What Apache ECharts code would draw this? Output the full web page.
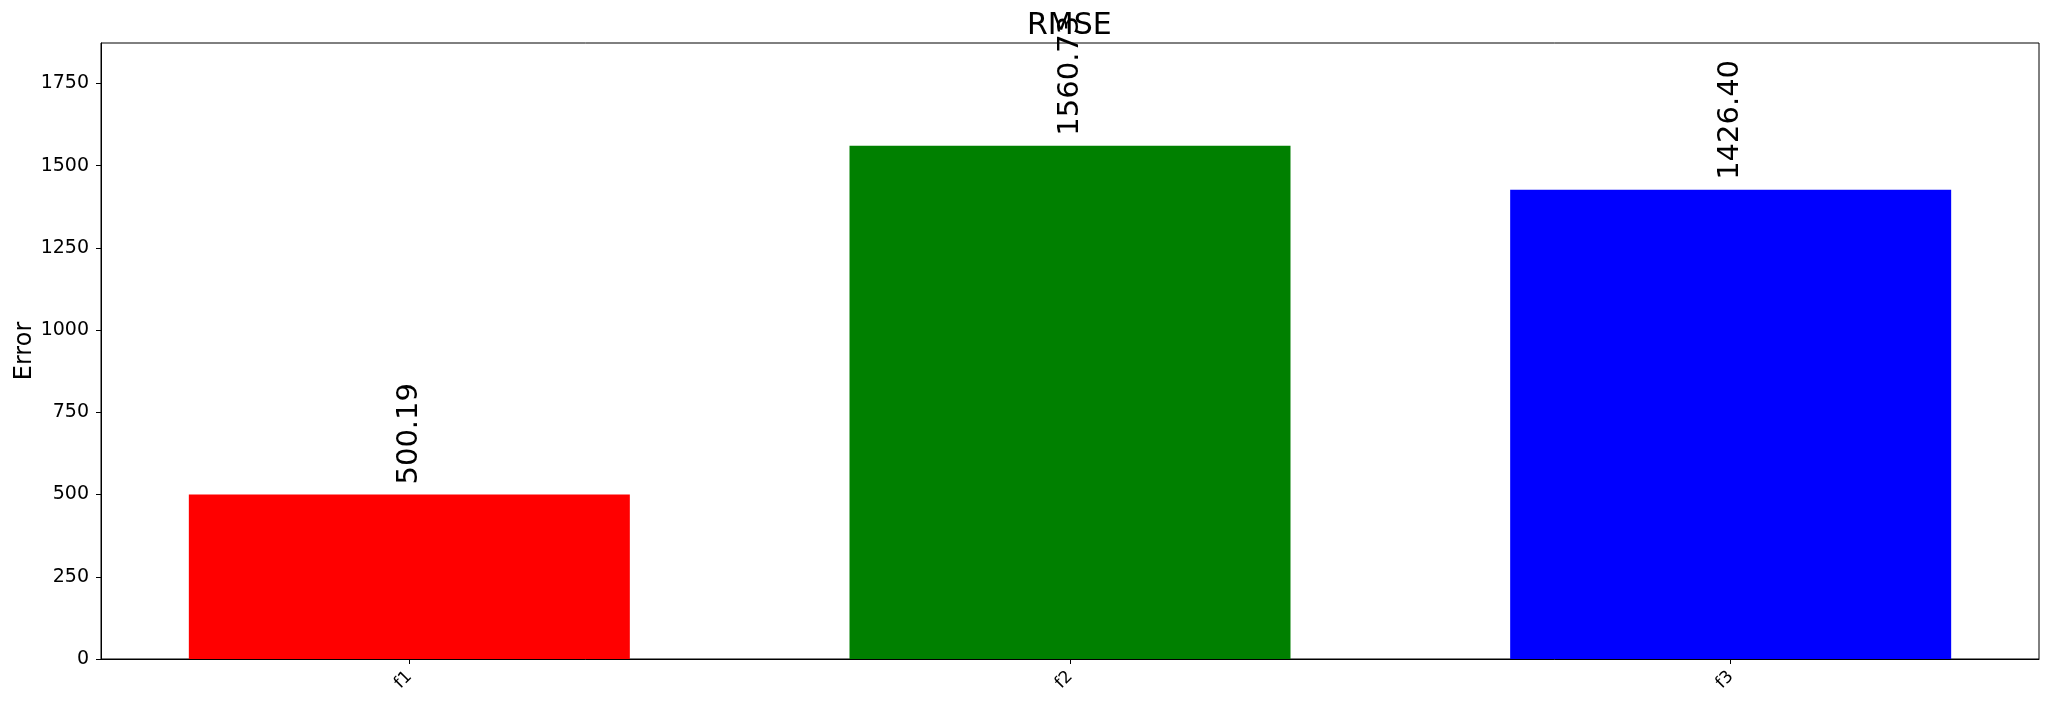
<!DOCTYPE html>
<html>
<head>
<meta charset="utf-8">
<script src="https://cdn.jsdelivr.net/npm/echarts@6/dist/echarts.min.js"></script>
<style>
html,body{margin:0;padding:0;background:#fff;}
#chart{width:2051px;height:705px;}
</style>
</head>
<body>
<div id="chart"></div>
<script>
const categories = ['f1', 'f2', 'f3'];
const rmseValues = [500.19, 1560.73, 1426.40];
const barColors = ['#ff0000', '#008000', '#0000ff'];
const yTicks = [0, 250, 500, 750, 1000, 1250, 1500, 1750];
const xTicks = [0, 1, 2];

const FONT = 'DejaVu Sans';
const yMax = Math.max.apply(null, rmseValues) * 1.2;

const chart = echarts.init(document.getElementById('chart'), null, {renderer: 'canvas'});
chart.setOption({
  animation: false,
  backgroundColor: '#ffffff',
  title: {
    text: 'RMSE',
    left: 1022,
    top: 6,
    textStyle: {fontFamily: FONT, fontSize: 30, fontWeight: 'normal', color: '#000'}
  },
  grid: {
    left: 101, right: 12, top: 43, bottom: 46,
    outerBoundsMode: 'none',
    containLabel: false,
    show: true, borderColor: '#000', borderWidth: 1, backgroundColor: 'transparent'
  },
  xAxis: {
    type: 'value',
    min: -0.4667,
    max: categories.length - 1 + 0.4667,
    splitLine: {show: false},
    axisLine: {show: true, onZero: false, lineStyle: {color: '#000', width: 1}},
    axisTick: {show: true, length: 5, lineStyle: {color: '#000'}, customValues: xTicks},
    axisLabel: {
      customValues: xTicks,
      rotate: 45,
      margin: 15,
      fontFamily: FONT, fontSize: 17, color: '#000',
      formatter: function (v) { return categories[Math.round(v)]; }
    }
  },
  yAxis: {
    type: 'value',
    min: 0,
    max: yMax,
    name: 'Error',
    nameLocation: 'middle',
    nameRotate: 90,
    nameGap: 64,
    nameMoveOverlap: false,
    nameTextStyle: {fontFamily: FONT, fontSize: 24, color: '#000'},
    splitLine: {show: false},
    axisLine: {show: true, onZero: false, lineStyle: {color: '#000', width: 1}},
    axisTick: {show: true, length: 5, lineStyle: {color: '#000'}, customValues: yTicks},
    axisLabel: {
      customValues: yTicks,
      margin: 12,
      fontFamily: FONT, fontSize: 19, color: '#000',
      formatter: function (v) { return String(v); }
    }
  },
  series: [{
    type: 'bar',
    barWidth: 441,
    data: rmseValues.map(function (v, i) {
      return {value: [xTicks[i], v], itemStyle: {color: barColors[i]}};
    }),
    label: {
      show: true,
      position: 'top',
      rotate: 90,
      align: 'left',
      verticalAlign: 'middle',
      distance: 10,
      fontFamily: FONT, fontSize: 29, color: '#000',
      formatter: function (p) { return p.value[1].toFixed(2); }
    }
  }]
});
</script>
</body>
</html>
